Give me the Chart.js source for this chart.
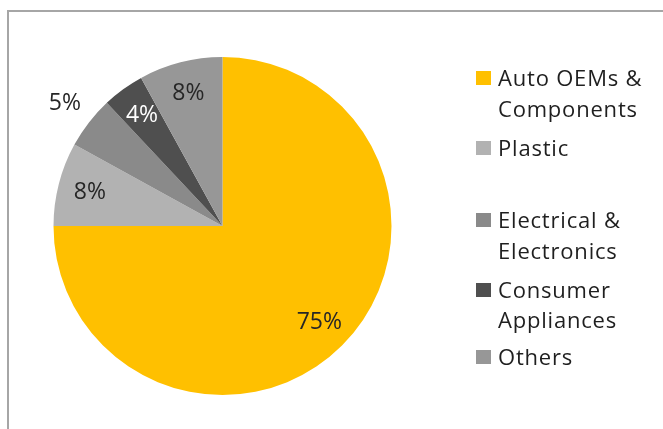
<!DOCTYPE html>
<html>
<head>
<meta charset="utf-8">
<script src="https://cdn.jsdelivr.net/npm/chart.js@4"></script>
<style>
  html, body { margin: 0; padding: 0; background: #ffffff; }
  #wrap { width: 663px; height: 429px; position: relative; }
</style>
</head>
<body>
<div id="wrap"><canvas id="c" width="663" height="429"></canvas></div>
<script>
// Sector split of end-use demand (percent)
const categories = [
  ["Auto OEMs &", "Components"],
  ["Plastic"],
  ["Electrical &", "Electronics"],
  ["Consumer", "Appliances"],
  ["Others"]
];
const shares = [75, 8, 5, 4, 8];
const percentLabels = ["75%", "8%", "5%", "4%", "8%"];
const sliceColors = ["#FFC000", "#B2B2B2", "#8A8A8A", "#4F4F4F", "#979797"];
const labelColors = ["#262626", "#262626", "#262626", "#FFFFFF", "#262626"];

const FONT = "'Open Sans', 'DejaVu Sans', sans-serif";

// Thin frame along the top and left edges
const framePlugin = {
  id: 'frame',
  beforeDraw(chart) {
    const ctx = chart.ctx;
    ctx.save();
    ctx.strokeStyle = '#A6A6A6';
    ctx.lineWidth = 2;
    ctx.beginPath();
    ctx.moveTo(8, 429);
    ctx.lineTo(8, 11);
    ctx.lineTo(663, 11);
    ctx.stroke();
    ctx.restore();
  }
};

// Percentage labels on (or just outside) each slice
const sliceLabelPlugin = {
  id: 'sliceLabels',
  afterDatasetsDraw(chart, args, opts) {
    const ctx = chart.ctx;
    const meta = chart.getDatasetMeta(0);
    ctx.save();
    ctx.font = "23px " + FONT;
    ctx.textAlign = 'center';
    ctx.textBaseline = 'middle';
    meta.data.forEach((arc, i) => {
      const mid = (arc.startAngle + arc.endAngle) / 2;
      const f = opts.outside.includes(i) ? 1.18 : 0.81;
      const x = arc.x + Math.cos(mid) * arc.outerRadius * f;
      const y = arc.y + Math.sin(mid) * arc.outerRadius * f;
      ctx.fillStyle = labelColors[i];
      ctx.fillText(percentLabels[i], x, y);
    });
    ctx.restore();
  }
};

// Legend at the right, with wrapped two-line entries (text baselines per line)
const sideLegendPlugin = {
  id: 'sideLegend',
  afterDraw(chart) {
    const ctx = chart.ctx;
    const rows = [[86, 117], [156], [228, 259], [298, 328], [365]];
    ctx.save();
    ctx.font = "22px " + FONT;
    if ('letterSpacing' in ctx) ctx.letterSpacing = '0.8px';
    ctx.textAlign = 'left';
    ctx.textBaseline = 'alphabetic';
    categories.forEach((lines, i) => {
      const ys = rows[i];
      ctx.fillStyle = sliceColors[i];
      ctx.fillRect(476, ys[0] - 15, 15, 14);
      ctx.fillStyle = '#1F1F1F';
      lines.forEach((t, k) => ctx.fillText(t, 498, ys[k]));
    });
    ctx.restore();
  }
};

new Chart(document.getElementById('c'), {
  type: 'pie',
  data: {
    labels: categories.map(l => l.join(' ')),
    datasets: [{
      data: shares,
      backgroundColor: sliceColors,
      borderWidth: 0
    }]
  },
  options: {
    responsive: false,
    animation: false,
    layout: { padding: { left: 53, right: 271, top: 57, bottom: 34 } },
    plugins: {
      legend: { display: false },
      tooltip: { enabled: false },
      sliceLabels: { outside: [2] }
    }
  },
  plugins: [framePlugin, sliceLabelPlugin, sideLegendPlugin]
});
</script>
</body>
</html>
